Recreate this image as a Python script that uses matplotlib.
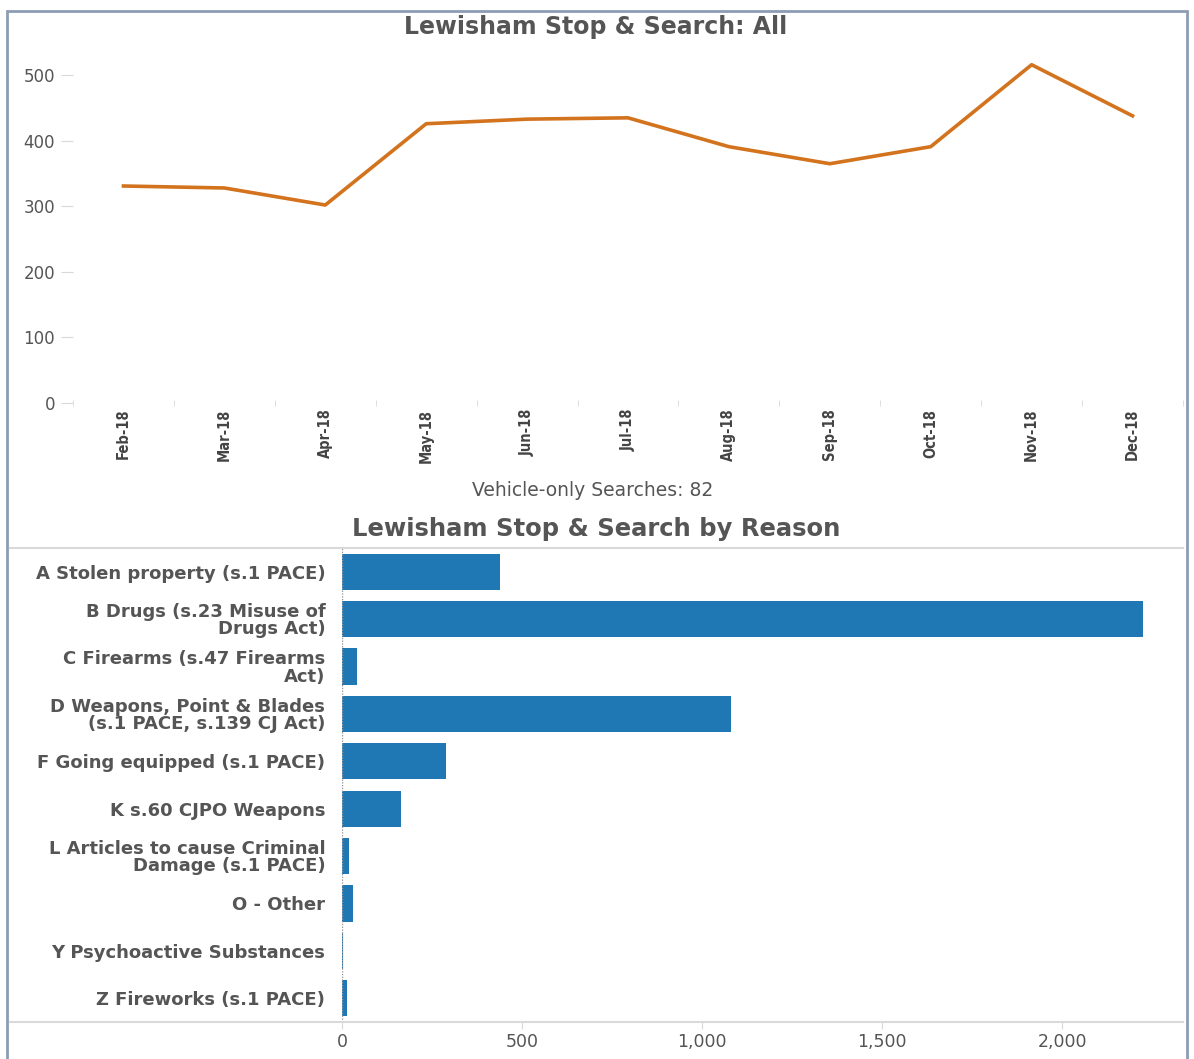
import matplotlib
matplotlib.use("Agg")
import matplotlib.pyplot as plt
from matplotlib.lines import Line2D
from matplotlib.patches import Rectangle

months = ["Feb-18", "Mar-18", "Apr-18", "May-18", "Jun-18", "Jul-18",
          "Aug-18", "Sep-18", "Oct-18", "Nov-18", "Dec-18"]
monthly_searches = [331, 328, 302, 426, 433, 435, 391, 365, 391, 516, 438]

reasons = [
    "A Stolen property (s.1 PACE)",
    "B Drugs (s.23 Misuse of\nDrugs Act)",
    "C Firearms (s.47 Firearms\nAct)",
    "D Weapons, Point & Blades\n(s.1 PACE, s.139 CJ Act)",
    "F Going equipped (s.1 PACE)",
    "K s.60 CJPO Weapons",
    "L Articles to cause Criminal\nDamage (s.1 PACE)",
    "O - Other",
    "Y Psychoactive Substances",
    "Z Fireworks (s.1 PACE)",
]
reason_counts = [439, 2225, 42, 1081, 289, 164, 19, 31, 3, 14]
vehicle_only = 82

W, H = 1194, 1059
TXT = "#555555"
GRID = "#d9d9d9"

plt.rcParams["font.family"] = ["DejaVu Sans"]

fig = plt.figure(figsize=(W / 100, H / 100), dpi=100)


def px_axes(x0, y0, x1, y1):
    # pixel box (top-left origin) -> figure fraction
    return fig.add_axes([x0 / W, 1 - y1 / H, (x1 - x0) / W, (y1 - y0) / H])


# outer frame
fig.add_artist(Rectangle((7 / W, -0.01), (1187 - 7) / W, 1 - 11 / H + 0.01,
                         transform=fig.transFigure, fill=False,
                         edgecolor="#8c9db3", linewidth=2))

# line chart
ax1 = px_axes(73, 49, 1183, 403)
x = list(range(len(months)))
ax1.plot(x, monthly_searches, color="#d3731e", linewidth=2.6)
ax1.set_xlim(-0.5, len(months) - 0.5)
ax1.set_ylim(0, 540)
ax1.set_yticks([0, 100, 200, 300, 400, 500])
ax1.set_xticks(x)
ax1.set_xticklabels(months, rotation=90, fontsize=10.5, color="#444444",
                    fontstretch="condensed", fontweight="bold")
ax1.set_xticks([i - 0.5 for i in range(len(months) + 1)], minor=True)
ax1.tick_params(axis="x", which="major", length=0, pad=4)
ax1.tick_params(axis="x", which="minor", length=4, color=GRID, direction="inout")
ax1.tick_params(axis="y", length=9, color=GRID, labelsize=12,
                labelcolor=TXT, pad=4)
for s in ax1.spines.values():
    s.set_visible(False)

fig.text(596 / W, 1 - 27 / H, "Lewisham Stop & Search: All", ha="center",
         va="center", fontsize=17, fontweight="bold", color=TXT)
fig.text(593 / W, 1 - 490 / H, f"Vehicle-only Searches: {vehicle_only}",
         ha="center", va="center", fontsize=13.5, color=TXT)
fig.text(596 / W, 1 - 529 / H, "Lewisham Stop & Search by Reason",
         ha="center", va="center", fontsize=17.5, fontweight="bold",
         color=TXT)

# bar chart
ax2 = px_axes(342, 548, 1183, 1022)
y = list(range(len(reasons)))
ax2.barh(y, reason_counts, height=0.76, color="#1f77b4")
ax2.set_ylim(len(reasons) - 0.5, -0.5)
ax2.set_xlim(0, 2336)
ax2.set_xticks([0, 500, 1000, 1500, 2000])
ax2.set_xticklabels(["0", "500", "1,000", "1,500", "2,000"])
ax2.tick_params(axis="x", length=5, color=GRID, labelsize=12.5,
                labelcolor=TXT, pad=3)
ax2.set_yticks(y)
ax2.set_yticklabels(reasons, fontsize=13, fontweight="bold", color=TXT,
                    linespacing=0.95)
ax2.tick_params(axis="y", length=0, pad=12)
for s in ax2.spines.values():
    s.set_visible(False)
ax2.axvline(0, color="#999999", linewidth=1, linestyle=(0, (1, 1)))

for yy in (548, 1022):
    fig.add_artist(Line2D([10 / W, 1183 / W], [1 - yy / H, 1 - yy / H],
                          transform=fig.transFigure, color=GRID, linewidth=1.5))

fig.savefig("out.png", dpi=100)
